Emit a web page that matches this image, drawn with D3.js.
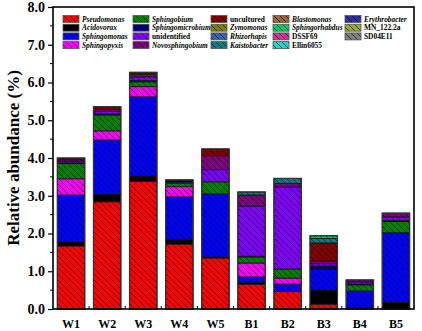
<!DOCTYPE html>
<html><head><meta charset="utf-8">
<script src="https://cdn.jsdelivr.net/npm/d3@7"></script>
<style>body{margin:0;background:#fff}svg{display:block}text{font-family:"Liberation Serif","Times New Roman",serif;font-weight:bold}</style>
</head><body>
<svg id="c" width="422" height="331"></svg>
<script>
const samples = ["W1","W2","W3","W4","W5","B1","B2","B3","B4","B5"];
const genera = ["Pseudomonas","Acidovorax","Sphingomonas","Sphingopyxis","Sphingobium","Sphingomicrobium","unidentified","Novosphingobium","uncultured","Zymomonas","Rhizorhapis","Kaistobacter","Blastomonas","Sphingorhabdus","DSSF69","Ellin6055","Erythrobacter","MN_122.2a","SD04E11"];
const italicGenus = [true,true,true,true,true,true,false,true,false,true,true,true,true,true,false,false,true,false,false];
const colors = ["#ff0000","#000000","#0000ff","#ff00ff","#008000","#000080","#8000ff","#800080","#800000","#808000","#3366aa","#008080","#996633","#00cc66","#cc3399","#33cccc","#333399","#99aa33","#808080"];
const Pseudomonas      = [1.67,2.84,3.38,1.72,1.35,0.66,0.46,0.13,0.04,0];
const Acidovorax       = [0.11,0.19,0.15,0.13,0.03,0.05,0,0.37,0,0.18];
const Sphingomonas     = [1.24,1.45,2.09,1.12,1.67,0.14,0.20,0.56,0.44,1.84];
const Sphingopyxis     = [0.43,0.24,0.27,0.27,0,0.37,0.16,0,0,0];
const Sphingobium      = [0.40,0.42,0.13,0.10,0.32,0.16,0.24,0,0.16,0.30];
const Sphingomicrobium = [0.02,0.03,0.03,0.04,0,0.02,0,0.08,0.02,0.02];
const unidentified     = [0.05,0.06,0.10,0.02,0.32,1.33,2.17,0.06,0.06,0.10];
const Novosphingobium  = [0.05,0.05,0.07,0.02,0.37,0.29,0.10,0.07,0.05,0.10];
const uncultured       = [0.03,0.08,0.05,0,0.18,0,0,0.48,0,0];
const Zymomonas        = [0,0,0,0,0,0,0,0,0,0];
const Rhizorhapis      = [0,0,0,0,0,0,0,0,0,0];
const Kaistobacter     = [0,0,0,0,0,0.08,0.13,0.12,0,0];
const Blastomonas      = [0,0,0,0,0,0,0,0,0,0];
const Sphingorhabdus   = [0,0,0,0,0,0,0,0.07,0,0];
const DSSF69           = [0,0,0,0,0,0,0,0,0,0];
const Ellin6055        = [0,0,0,0,0,0,0,0,0,0];
const Erythrobacter    = [0,0,0,0,0,0,0,0,0,0];
const MN_122_2a        = [0,0,0,0,0,0,0,0,0,0];
const SD04E11          = [0,0,0,0,0,0,0,0,0,0];
const seriesValues = [Pseudomonas,Acidovorax,Sphingomonas,Sphingopyxis,Sphingobium,Sphingomicrobium,unidentified,Novosphingobium,uncultured,Zymomonas,Rhizorhapis,Kaistobacter,Blastomonas,Sphingorhabdus,DSSF69,Ellin6055,Erythrobacter,MN_122_2a,SD04E11];
const yTicks = [0,1,2,3,4,5,6,7,8];

const svg = d3.select("#c");
const m = {l:53, r:8, t:7, b:22};
const W = 422, H = 331;
const x = d3.scaleBand().domain(samples).range([m.l, W-m.r]).paddingInner(0.24).paddingOuter(0.12);
const y = d3.scaleLinear().domain([0,8]).range([H-m.b, m.t]);

const defs = svg.append("defs");
colors.forEach((c,i)=>{
  const p = defs.append("pattern").attr("id","p"+i).attr("patternUnits","userSpaceOnUse")
    .attr("width",6).attr("height",6);
  p.append("rect").attr("width",6).attr("height",6).attr("fill",c);
  p.append("path").attr("d","M-1,-1L7,7M-1,5L1,7M5,-1L7,1").attr("stroke","#000").attr("stroke-width",0.6);
});

const table = samples.map((s,j)=>{ const o={sample:s}; genera.forEach((g,i)=>o[g]=seriesValues[i][j]); return o; });
const stack = d3.stack().keys(genera)(table);

const g = svg.append("g");
stack.forEach((layer,i)=>{
  g.selectAll(null).data(layer.filter(d=>d[1]-d[0]>0)).enter().append("rect")
    .attr("x",d=>x(d.data.sample)).attr("width",x.bandwidth())
    .attr("y",d=>y(d[1])).attr("height",d=>y(d[0])-y(d[1]))
    .attr("fill","url(#p"+i+")").attr("stroke","#111").attr("stroke-width",0.8);
});
g.selectAll(null).data(table).enter().append("rect")
  .attr("x",d=>x(d.sample)).attr("width",x.bandwidth())
  .attr("y",d=>y(d3.sum(genera,k=>d[k]))).attr("height",d=>y(0)-y(d3.sum(genera,k=>d[k])))
  .attr("fill","none").attr("stroke","#333").attr("stroke-width",1.2);

const ya = svg.append("g").attr("transform",`translate(${m.l},0)`)
  .call(d3.axisLeft(y).tickValues(yTicks).tickFormat(d3.format(".1f")).tickSize(5).tickPadding(3));
ya.select(".domain").remove();
ya.selectAll("text").style("font-size","14px").style("font-weight","bold").attr("fill","#000")
  .style("font-family","'Liberation Serif',serif");
ya.selectAll("line").attr("stroke-width",1.2);
const minor = d3.range(0.5,8,1);
svg.append("g").selectAll("line").data(minor).enter().append("line")
  .attr("x1",m.l-3).attr("x2",m.l).attr("y1",d=>y(d)).attr("y2",d=>y(d)).attr("stroke","#000").attr("stroke-width",1);

const xa = svg.append("g").attr("transform",`translate(0,${H-m.b})`)
  .call(d3.axisBottom(x).tickSize(0).tickPadding(10));
xa.select(".domain").remove();
xa.selectAll("text").style("font-size","12px").style("font-weight","bold").attr("fill","#000")
  .style("font-family","'Liberation Serif',serif");
const step = x.step();
svg.append("g").selectAll("line").data(samples.slice(1)).enter().append("line")
  .attr("x1",d=>x(d)-(step-x.bandwidth())/2).attr("x2",d=>x(d)-(step-x.bandwidth())/2)
  .attr("y1",H-m.b).attr("y2",H-m.b-3).attr("stroke","#000").attr("stroke-width",1);

svg.append("rect").attr("x",m.l).attr("y",m.t).attr("width",W-m.r-m.l).attr("height",H-m.b-m.t)
  .attr("fill","none").attr("stroke","#000").attr("stroke-width",1.6);

svg.append("text").attr("transform",`translate(19,${(m.t+H-m.b)/2}) rotate(-90)`)
  .attr("text-anchor","middle").style("font-size","17px").text("Relative abundance (%)");

const colX = [63,133,211,273,345];
const rowY = [15.5,24.2,32.9,41.6];
const lg = svg.append("g");
genera.forEach((gname,i)=>{
  const col = Math.floor(i/4), row = i%4;
  const gx = colX[col], gy = rowY[row];
  lg.append("rect").attr("x",gx).attr("y",gy).attr("width",16).attr("height",7)
    .attr("fill","url(#p"+i+")").attr("stroke","#555").attr("stroke-width",0.8);
  lg.append("text").attr("x",gx+19).attr("y",gy+6.2).style("font-size","7.4px")
    .style("font-style",italicGenus[i]?"italic":"normal").text(gname);
});
</script>
</body></html>
